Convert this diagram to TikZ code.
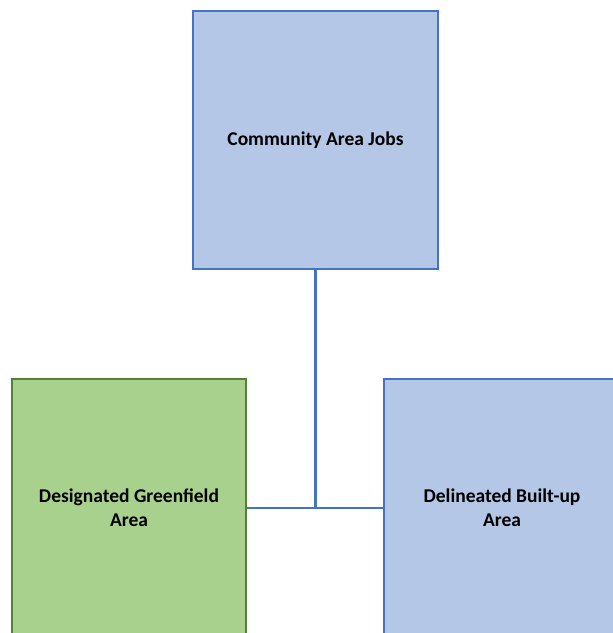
\documentclass[tikz,border=0pt]{standalone}
\usepackage{fontspec}
\setmainfont{Carlito}
\usepackage{tikz}
\usepackage{xcolor}

\definecolor{boxblue}{HTML}{B4C7E7}
\definecolor{lineblue}{HTML}{4472C4}
\definecolor{boxgreen}{HTML}{A9D18E}
\definecolor{linegreen}{HTML}{538135}

\begin{document}
\begin{tikzpicture}[x=1pt, y=-1pt,
    areabox/.style={draw, line width=2.2pt, minimum width=245pt, minimum height=258pt,
      align=center, font=\fontsize{19.5}{24}\selectfont\bfseries, inner sep=0pt},
    bluebox/.style={areabox, fill=boxblue, draw=lineblue},
    greenbox/.style={areabox, fill=boxgreen, draw=linegreen},
    link/.style={draw=lineblue, line width=2.2pt}]
    \clip (0, 0) rectangle (613, 633);

    \node[bluebox] (jobs) at (315.5, 140) {Community Area Jobs};
    \node[greenbox, minimum width=234pt] (green) at (129, 508) {Designated Greenfield\\Area};
    \node[bluebox, minimum width=236pt] (built) at (502, 508) {Delineated Built-up\\Area};

  \draw[link] (jobs.south) -- (jobs.south |- green.east);
  \draw[link] (green.east) -- (built.west);
 \end{tikzpicture}
\end{document}
